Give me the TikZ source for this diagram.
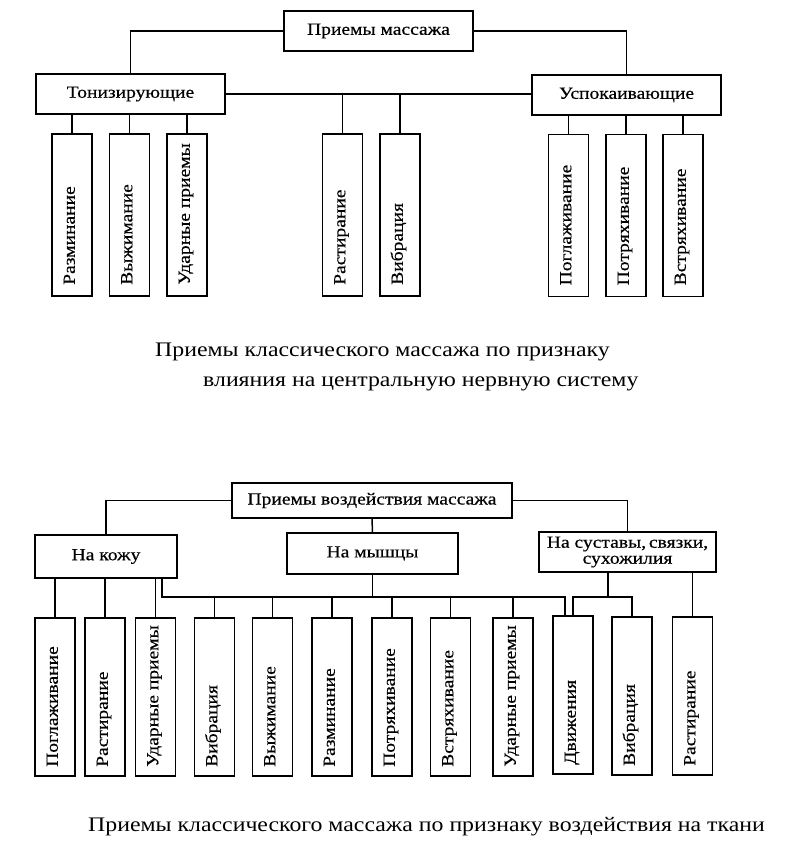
\documentclass[tikz,border=0pt]{standalone}
\usepackage{fontspec}
\setmainfont[FakeStretch=1.15,FakeBold=0.4]{Liberation Serif}
\newfontfamily\capfont[FakeStretch=1.15]{Liberation Serif}
\begin{document}
\begin{tikzpicture}[x=1pt,y=-1pt,
  box/.style={draw, line width=1.5pt, inner sep=0pt, outer sep=0pt,
    font=\fontsize{17}{16}\selectfont},
  kid/.style={draw, line width=1.5pt, inner sep=0pt, outer sep=0pt, minimum width=40pt},
  vlab/.style={rotate=90, anchor=west, inner sep=0pt, text height=0.56em, text depth=0pt,
    font=\fontsize{17}{17}\selectfont},
  link/.style={line width=1.5pt},
  captxt/.style={anchor=west, inner sep=0pt, font=\capfont\fontsize{20.7}{21}\selectfont}]
\useasboundingbox (0,0) rectangle (790,858);
\fill[white] (0,0) rectangle (790,858);

% ---------- top diagram ----------
\node[box, minimum width=189pt, minimum height=40pt] (A) at (378.5,31) {Приемы массажа};
\node[box, minimum width=189pt, minimum height=40pt] (T) at (130.5,94) {Тонизирующие};
\node[box, minimum width=189pt, minimum height=40pt] (U) at (626.5,95) {Успокаивающие};
\draw[link] (A.west) -| (T.north);
\draw[link] (A.east) -| (U.north);
\draw[link] (T.east) -- (T.east -| U.west);

\node[kid, minimum height=162pt] (t1) at (72,215) {};
\node[kid, minimum height=162pt] (t2) at (129.5,215) {};
\node[kid, minimum height=162pt] (t3) at (187,215) {};
\node[kid, minimum height=162pt] (r1) at (342.5,215) {};
\node[kid, minimum height=162pt] (r2) at (400,215) {};
\node[kid, minimum height=162pt] (u1) at (568.5,215.5) {};
\node[kid, minimum height=162pt] (u2) at (626,215.5) {};
\node[kid, minimum height=162pt] (u3) at (683,215.5) {};

\path (t1.south) ++(0,-11) node[vlab] {Разминание};
\path (t2.south) ++(0,-11) node[vlab] {Выжимание};
\path (t3.south) ++(0,-11) node[vlab] {Ударные приемы};
\path (r1.south) ++(0,-11) node[vlab] {Растирание};
\path (r2.south) ++(0,-11) node[vlab] {Вибрация};
\path (u1.south) ++(0,-11) node[vlab] {Поглаживание};
\path (u2.south) ++(0,-11) node[vlab] {Потряхивание};
\path (u3.south) ++(0,-11) node[vlab] {Встряхивание};

\foreach \n in {t1,t2,t3} \draw[link] (\n.north) -- (\n.north |- T.south);
\foreach \n in {u1,u2,u3} \draw[link] (\n.north) -- (\n.north |- U.south);
\foreach \n in {r1,r2} \draw[link] (\n.north) -- (\n.north |- T.east);

\node[captxt] (c1) at (155,352) {Приемы классического массажа по признаку};
\node[captxt] (c2) at (203,384) {влияния на центральную нервную систему};

% ---------- bottom diagram ----------
\node[box, minimum width=280pt, minimum height=35pt] (B) at (372,500.5) {Приемы воздействия массажа};
\node[box, minimum width=142pt, minimum height=43pt] (K) at (106,556.5) {На кожу};
\node[box, minimum width=171pt, minimum height=41pt] (M) at (372.5,553.5) {На мышцы};
\node[box, align=center, minimum width=177pt, minimum height=40pt] (S) at (627.5,552) {На суставы,\,связки,\\сухожилия};
\draw[link] (B.west) -| (K.north);
\draw[link] (B.east) -| (S.north);
\draw[link] (B.south) -- (M.north);

\node[kid, minimum height=158pt] (k1) at (55,697) {};
\node[kid, minimum height=158pt] (k2) at (105,697) {};
\node[kid, minimum height=158pt] (k3) at (155.5,697) {};
\node[kid, minimum height=158pt] (m1) at (214.5,697) {};
\node[kid, minimum height=158pt] (m2) at (272.5,697) {};
\node[kid, minimum height=158pt] (m3) at (332,697) {};
\node[kid, minimum height=158pt] (m4) at (392,697) {};
\node[kid, minimum height=158pt] (m5) at (450.5,697) {};
\node[kid, minimum height=158pt] (m6) at (513,697) {};
\node[kid, minimum height=158pt] (d1) at (573,695) {};
\node[kid, minimum height=158pt] (d2) at (632,696) {};
\node[kid, minimum height=158pt] (d3) at (692.5,696) {};

\path (k1.south) ++(0,-9) node[vlab] {Поглаживание};
\path (k2.south) ++(0,-9) node[vlab] {Растирание};
\path (k3.south) ++(0,-9) node[vlab] {Ударные приемы};
\path (m1.south) ++(0,-9) node[vlab] {Вибрация};
\path (m2.south) ++(0,-9) node[vlab] {Выжимание};
\path (m3.south) ++(0,-9) node[vlab] {Разминание};
\path (m4.south) ++(0,-9) node[vlab] {Потряхивание};
\path (m5.south) ++(0,-9) node[vlab] {Встряхивание};
\path (m6.south) ++(0,-9) node[vlab] {Ударные приемы};
\path (d1.south) ++(0,-9) node[vlab] {Движения};
\path (d2.south) ++(0,-9) node[vlab] {Вибрация};
\path (d3.south) ++(0,-9) node[vlab] {Растирание};

\foreach \n in {k1,k2,k3} \draw[link] (\n.north) -- (\n.north |- K.south);

\coordinate (bus1) at (162,597);
\coordinate (bus2) at (565,597);
\draw[link] (K.south -| bus1) -- (bus1) -- (bus2) -- (bus2 |- d1.north);
\draw[link] (M.south) -- (M.south |- bus1);
\foreach \n in {m1,m2,m3,m4,m5,m6} \draw[link] (\n.north) -- (\n.north |- bus1);

\coordinate (sb) at (608,597);
\coordinate (sl) at (573,597);
\coordinate (sr) at (632,597);
\draw[link] (S.south -| sb) -- (sb);
\draw[link] (d1.north) -- (sl) -- (sr) -- (d2.north);
\draw[link] (d3.north) -- (d3.north |- S.south);

\node[captxt] (c3) at (88,827) {Приемы классического массажа по признаку воздействия на ткани};
\end{tikzpicture}
\end{document}
